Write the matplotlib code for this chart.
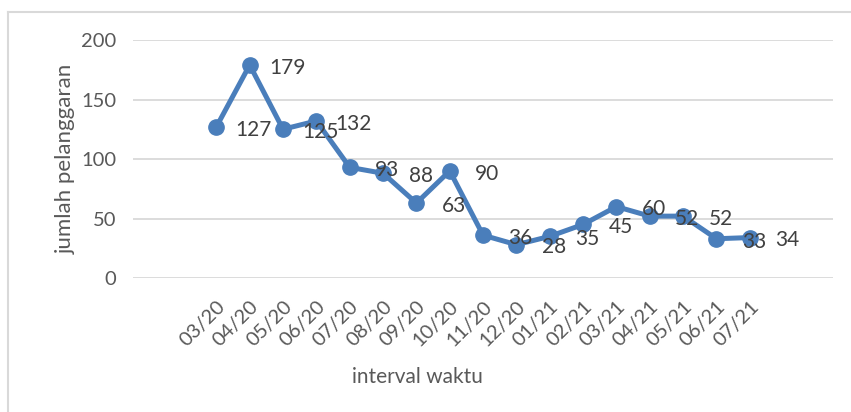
import matplotlib
matplotlib.use('Agg')
import matplotlib.pyplot as plt
from matplotlib.lines import Line2D

bulan = ['03/20', '04/20', '05/20', '06/20', '07/20', '08/20', '09/20', '10/20',
         '11/20', '12/20', '01/21', '02/21', '03/21', '04/21', '05/21', '06/21', '07/21']
jumlah = [127, 179, 125, 132, 93, 88, 63, 90, 36, 28, 35, 45, 60, 52, 52, 33, 34]

plt.rcParams['font.family'] = ['Lato', 'DejaVu Sans']

fig = plt.figure(figsize=(8.51, 4.12), dpi=100)
ax = fig.add_axes([0.1563, 0.3252, 0.8227, 0.5777])

x = list(range(len(bulan)))
ax.plot(x, jumlah, color='#4a7ebb', lw=3.6, marker='o', ms=11, zorder=3)

for xi, yi in zip(x, jumlah):
    ax.annotate(str(yi), (xi, yi), xytext=(27, -2), textcoords='offset points',
                ha='center', va='center', fontsize=15, color='#404040')

ax.set_xlim(-2.5, len(bulan) + 1.5)
ax.set_ylim(0, 200)
ax.set_yticks([0, 50, 100, 150, 200])
ax.set_xticks(x)
ax.set_xticklabels(bulan, rotation=45, ha='right', rotation_mode='anchor')
ax.grid(axis='y', color='#d9d9d9', lw=1.3)
ax.set_axisbelow(True)
for s in ax.spines.values():
    s.set_visible(False)
ax.tick_params(length=0, labelsize=14.5, labelcolor='#595959')
ax.tick_params(axis='y', pad=12)
ax.tick_params(axis='x', pad=14)

ax.set_ylabel('jumlah pelanggaran', fontsize=16, color='#595959')
ax.yaxis.set_label_coords(-0.082, 0.5)
fig.text(0.49, 0.085, 'interval waktu', fontsize=15, color='#595959', ha='center', va='center')

# border of chart area
fig.add_artist(Line2D([8/851, 1], [1 - 12/412, 1 - 12/412], color='#d9d9d9', lw=1.5))
fig.add_artist(Line2D([8/851, 8/851], [0, 1 - 12/412], color='#d9d9d9', lw=1.5))

fig.savefig('out.png', dpi=100)
